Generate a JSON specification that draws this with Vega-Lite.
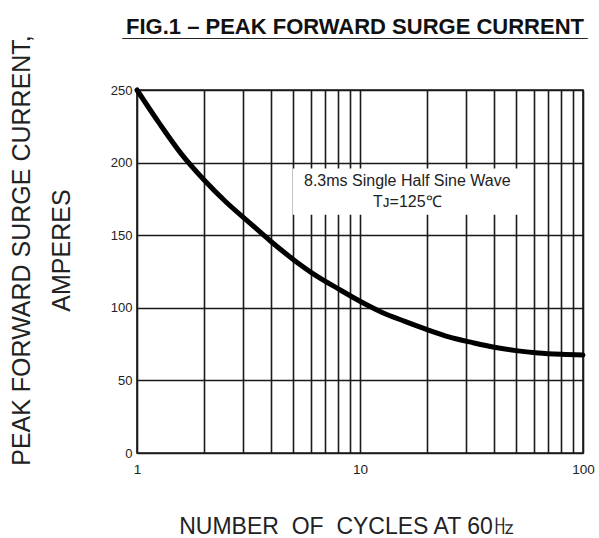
{
  "$schema": "https://vega.github.io/schema/vega-lite/v6.json",
  "width": 446,
  "height": 363,
  "autosize": {"type": "none"},
  "padding": {"left": 137, "top": 90, "right": 16, "bottom": 85},
  "background": "white",
  "title": {
    "text": "FIG.1 – PEAK FORWARD SURGE CURRENT",
    "subtitle": "______________________________________",
    "frame": "group",
    "font": "Liberation Sans",
    "fontSize": 22,
    "fontWeight": "bold",
    "color": "#111",
    "subtitleFont": "Liberation Sans",
    "subtitleFontSize": 22,
    "subtitleFontWeight": "bold",
    "subtitleColor": "#222",
    "subtitlePadding": -20,
    "anchor": "middle",
    "dx": -5,
    "offset": -6
  },
  "datasets": {
    "curve": [
      {"cycles": 1, "amps": 250},
      {"cycles": 1.26, "amps": 227},
      {"cycles": 1.58, "amps": 206},
      {"cycles": 2, "amps": 188},
      {"cycles": 2.5, "amps": 173},
      {"cycles": 3.2, "amps": 158.5},
      {"cycles": 4, "amps": 145.5},
      {"cycles": 5, "amps": 133.5},
      {"cycles": 6.3, "amps": 122.5},
      {"cycles": 8, "amps": 113},
      {"cycles": 10, "amps": 104.5},
      {"cycles": 12.5, "amps": 97},
      {"cycles": 16, "amps": 90.5},
      {"cycles": 20, "amps": 85},
      {"cycles": 25, "amps": 80},
      {"cycles": 32, "amps": 76},
      {"cycles": 40, "amps": 72.8},
      {"cycles": 50, "amps": 70.5},
      {"cycles": 63, "amps": 68.9},
      {"cycles": 80, "amps": 68},
      {"cycles": 100, "amps": 67.5}
    ],
    "box": [
      {"x1": 5, "x2": 52, "y1": 164, "y2": 196}
    ],
    "notes": [
      {"x": 16.3, "y": 187.3, "label": "8.3ms Single Half Sine Wave"},
      {"x": 16.3, "y": 172.9, "label": "Tᴊ=125℃"}
    ]
  },
  "layer": [
    {
      "data": {"name": "box"},
      "mark": {"type": "rect", "fill": "white", "stroke": null},
      "encoding": {
        "x": {
          "field": "x1", "type": "quantitative",
          "scale": {"type": "log", "domain": [1, 100], "nice": false},
          "axis": {
            "values": [1, 2, 3, 4, 5, 6, 7, 8, 9, 10, 20, 30, 40, 50, 60, 70, 80, 90, 100],
            "labelExpr": "datum.value == 1 || datum.value == 10 || datum.value == 100 ? format(datum.value, 'd') : ''",
            "labelOverlap": false,
            "labelFlush": false,
            "labelPadding": 9,
            "labelFontSize": 13.5,
            "title": "NUMBER\u00a0 OF\u00a0 CYCLES AT 60㎐",
            "titleFontSize": 23,
            "titleFontWeight": "normal",
            "titleX": 210,
            "titleY": 80,
            "titleBaseline": "alphabetic"
          }
        },
        "x2": {"field": "x2"},
        "y": {
          "field": "y1", "type": "quantitative",
          "scale": {"domain": [0, 250], "nice": false},
          "axis": {
            "values": [0, 50, 100, 150, 200, 250],
            "labelPadding": 5,
            "labelFontSize": 13,
            "title": ["PEAK FORWARD SURGE CURRENT,", "AMPERES"],
            "titleFontSize": 25,
            "titleFontWeight": "normal",
            "titleLineHeight": 40,
            "titleBaseline": "top",
            "titleAlign": "center",
            "titleAngle": -90,
            "titleX": -128,
            "titleY": 160
          }
        },
        "y2": {"field": "y2"}
      }
    },
    {
      "data": {"name": "curve"},
      "mark": {"type": "line", "color": "#000", "strokeWidth": 5, "interpolate": "monotone", "strokeCap": "round"},
      "encoding": {
        "x": {"field": "cycles", "type": "quantitative"},
        "y": {"field": "amps", "type": "quantitative"}
      }
    },
    {
      "data": {"name": "notes"},
      "mark": {"type": "text", "fontSize": 16, "font": "Liberation Sans", "color": "#222", "align": "center", "baseline": "middle"},
      "encoding": {
        "x": {"field": "x", "type": "quantitative"},
        "y": {"field": "y", "type": "quantitative"},
        "text": {"field": "label"}
      }
    }
  ],
  "config": {
    "font": "Liberation Sans",
    "view": {"stroke": "#1a1a1a", "strokeWidth": 1.6},
    "axis": {
      "domain": false,
      "ticks": false,
      "grid": true,
      "gridColor": "#1a1a1a",
      "gridWidth": 1.6,
      "gridOpacity": 1,
      "labelColor": "#222",
      "titleColor": "#222",
      "labelFont": "Liberation Sans",
      "titleFont": "Liberation Sans"
    }
  }
}
